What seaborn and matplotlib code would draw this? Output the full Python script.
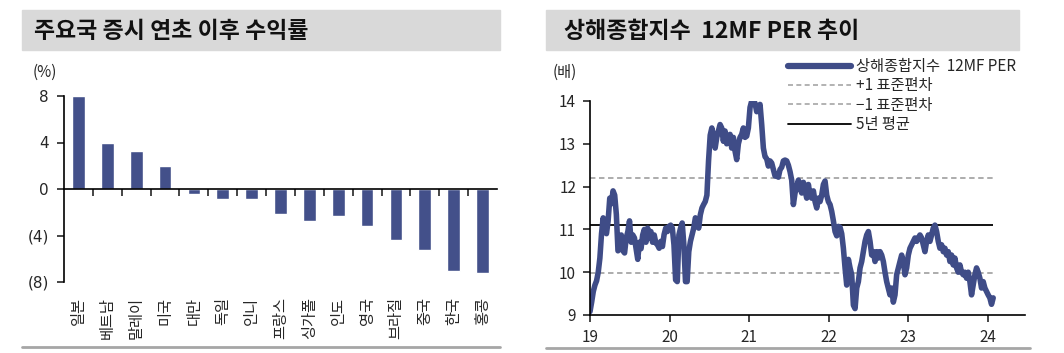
import numpy as np
import pandas as pd
import matplotlib
matplotlib.use("Agg")
import matplotlib.pyplot as plt
from matplotlib.lines import Line2D
from matplotlib.patches import Rectangle
import matplotlib.transforms as mtransforms
import seaborn as sns

sns.set_style("white")
plt.rcParams["font.family"] = ["Noto Sans CJK KR", "DejaVu Sans"]
plt.rcParams["axes.unicode_minus"] = False

# ---- left chart data: 주요국 증시 연초 이후 수익률 (%)
countries = ["일본", "베트남", "말레이", "미국", "대만", "독일", "인니", "프랑스",
             "싱가폴", "인도", "영국", "브라질", "중국", "한국", "홍콩"]
returns = [8.0, 4.0, 3.3, 2.0, -0.4, -0.83, -0.83, -2.18,
           -2.78, -2.32, -3.21, -4.38, -5.27, -7.05, -7.19]
ret_ticks = [8, 4, 0, -4, -8]
ret_ticklabels = ["8", "4", "0", "(4)", "(8)"]

# ---- right chart data: 상해종합지수 12MF PER (배) in three stretches
per_a = [9.08, 9.3, 9.55, 9.7, 9.8, 10.0, 10.33, 10.9, 11.27, 11.03, 10.9, 11.2, 11.73, 11.6,
         11.9, 11.8, 11.35, 10.5, 10.55, 10.87, 10.5, 10.45, 10.8, 10.95, 11.2, 10.7, 10.87,
         10.8, 10.55, 10.3, 10.7, 10.55, 10.87, 11.0, 10.7, 11.03, 10.8, 10.95, 10.7, 10.87,
         10.68, 10.64, 10.56, 10.72, 10.6, 10.88, 11.03, 10.95, 11.07, 11.1, 11.03, 10.64,
         9.82, 9.78, 10.87, 11.03, 11.15, 10.64, 9.78, 9.78, 10.48, 10.72, 10.87, 11.03,
         11.27, 11.2, 11.03, 11.34, 11.5, 11.58, 11.65, 11.8, 12.6, 13.2, 13.37, 13.2, 12.9,
         13.15, 13.3, 13.45, 13.37, 13.06]
per_a_span = (2019.0, 2020.677)

per_b = [13.3, 13.0, 13.15, 13.22, 12.9, 13.15, 12.83, 12.63, 13.0, 13.15, 13.22, 13.37,
         13.15, 13.18, 13.37, 13.85, 14.0, 14.0, 13.95, 13.75, 13.8, 13.92, 13.45, 12.9,
         12.7, 12.65, 12.48, 12.6, 12.55, 12.4, 12.25, 12.25, 12.22, 12.4, 12.45, 12.6,
         12.62, 12.6, 12.5, 12.35, 12.15, 11.58, 11.85, 12.0, 12.15, 11.97, 11.85, 12.1,
         11.92, 11.73, 12.05, 11.8, 11.73, 11.9, 11.65, 11.5, 11.73, 11.65, 11.8, 12.05,
         12.13, 11.8, 11.65, 11.58, 11.42, 11.2, 10.95, 10.85, 11.07, 11.05, 10.9, 10.56,
         10.1, 9.7, 10.3, 10.1, 9.94, 9.23]
per_b_span = (2020.698, 2022.312)

per_c = [9.15, 9.63, 9.78, 10.1, 10.25, 10.48, 10.72, 10.87, 10.95, 10.72, 10.4, 10.48,
         10.25, 10.48, 10.33, 10.48, 10.4, 10.25, 10.0, 9.78, 9.63, 9.47, 9.63, 9.3, 9.47,
         9.94, 10.1, 10.25, 10.4, 10.25, 9.94, 10.1, 10.4, 10.56, 10.64, 10.72, 10.8, 10.72,
         10.8, 10.87, 10.8, 10.64, 10.48, 10.72, 10.87, 10.72, 10.87, 11.03, 11.1, 10.95,
         10.72, 10.56, 10.64, 10.48, 10.56, 10.4, 10.48, 10.25, 10.4, 10.17, 10.33, 10.1,
         10.0, 10.17, 10.0, 9.94, 10.0, 9.86, 10.0, 9.78, 9.47, 9.7, 9.94, 10.1, 10.0, 9.86,
         9.63, 9.78, 9.63, 9.55, 9.47, 9.4, 9.25, 9.4]
per_c_span = (2022.333, 2024.07)

per_plus1 = 12.2
per_minus1 = 9.97
per_mean = 11.1
year_ticks = [2019, 2020, 2021, 2022, 2023, 2024]
year_labels = ["19", "20", "21", "22", "23", "24"]

bar_color = "#43508A"
line_color = "#3F4C87"
grid_gray = "#A6A6A6"

frames = []
for vals, (x0, x1) in [(per_a, per_a_span), (per_b, per_b_span), (per_c, per_c_span)]:
    frames.append(pd.DataFrame({"year": np.linspace(x0, x1, len(vals)), "per": vals}))
per_df = pd.concat(frames, ignore_index=True)

W, H = 1064, 353
fig = plt.figure(figsize=(W / 100, H / 100), dpi=100)


def fx(px):
    return px / W


def fy(py):
    return 1 - py / H


# title boxes and bottom rules
for x0, x1, tx, title in [(22, 500, 34, "주요국 증시 연초 이후 수익률"),
                          (546, 1019, 564, "상해종합지수  12MF PER 추이")]:
    fig.patches.append(Rectangle((fx(x0), fy(50)), fx(x1 - x0), 40 / H,
                                 transform=fig.transFigure, color="#D9D9D9", zorder=0))
    fig.text(fx(tx), fy(31), title, fontsize=16.5, fontweight="bold",
             ha="left", va="center", color="#111111")
fig.add_artist(Line2D([fx(22), fx(500)], [fy(347), fy(347)], color=grid_gray, lw=2))
fig.add_artist(Line2D([fx(546), fx(1030)], [fy(348), fy(348)], color=grid_gray, lw=2))

# ---------------- left: bar chart
ax1 = fig.add_axes([fx(64), fy(282), fx(497 - 64), (282 - 96) / H])
sns.barplot(x=countries, y=returns, color=bar_color, width=0.44, saturation=1, ax=ax1)
ax1.set_xlim(-0.5, 14.5)
ax1.set_ylim(-8, 8)
for s in ["top", "right"]:
    ax1.spines[s].set_visible(False)
ax1.spines["bottom"].set_position(("data", 0))
ax1.spines["left"].set_bounds(-8, 8)
for s in ["left", "bottom"]:
    ax1.spines[s].set_color("black")
    ax1.spines[s].set_linewidth(1.2)
ax1.set_yticks(ret_ticks)
ax1.set_yticklabels(ret_ticklabels, fontsize=11, family=["DejaVu Sans"])
ax1.set_xticks(np.arange(len(countries) - 1) + 0.5)
ax1.set_xticklabels([])
ax1.tick_params(axis="y", direction="out", length=5, width=1.2, pad=6, left=True)
ax1.tick_params(axis="x", direction="out", length=5, width=1.2, bottom=True)
ax1.set_xlabel("")
ax1.set_ylabel("")
trans = mtransforms.blended_transform_factory(ax1.transData, ax1.transAxes)
for i, name in enumerate(countries):
    ax1.text(i, -0.08, name, rotation=90, ha="center", va="top",
             fontsize=11, transform=trans)
fig.text(fx(33), fy(72), "(%)", fontsize=11, ha="left", va="center")

# ---------------- right: line chart
ax2 = fig.add_axes([fx(590), fy(315), fx(1025 - 590), (315 - 101) / H])
x_end = per_df["year"].iloc[-1]
ax2.hlines(per_plus1, 2019, x_end, colors=grid_gray, linestyles=(0, (3, 2)), lw=1.3)
ax2.hlines(per_minus1, 2019, x_end, colors=grid_gray, linestyles=(0, (3, 2)), lw=1.3)
ax2.hlines(per_mean, 2019, x_end, colors="black", lw=1.3)
sns.lineplot(data=per_df, x="year", y="per", color=line_color, lw=4, ax=ax2,
             solid_joinstyle="round", solid_capstyle="round")
ax2.set_xlim(2019, 2024.47)
ax2.set_ylim(9, 14)
for s in ["top", "right"]:
    ax2.spines[s].set_visible(False)
for s in ["left", "bottom"]:
    ax2.spines[s].set_color("black")
    ax2.spines[s].set_linewidth(1.2)
ax2.set_xticks(year_ticks)
ax2.set_xticklabels(year_labels, fontsize=11)
ax2.set_yticks(np.arange(9, 15))
ax2.set_yticklabels([str(v) for v in range(9, 15)], fontsize=11)
ax2.tick_params(axis="both", direction="out", length=5, width=1.2, pad=5,
                left=True, bottom=True)
ax2.set_xlabel("")
ax2.set_ylabel("")
fig.text(fx(553), fy(72), "(배)", fontsize=11, ha="left", va="center")

handles = [Line2D([], [], color=line_color, lw=4.5, solid_capstyle="round"),
           Line2D([], [], color=grid_gray, lw=1.2, ls=(0, (3, 2))),
           Line2D([], [], color=grid_gray, lw=1.2, ls=(0, (3, 2))),
           Line2D([], [], color="black", lw=1.3)]
labels = ["상해종합지수  12MF PER", "+1 표준편차", "\u22121 표준편차", "5년 평균"]
fig.legend(handles, labels, loc="upper left", bbox_to_anchor=(fx(788), fy(58)),
           frameon=False, fontsize=11, handlelength=4.1, handletextpad=0.35,
           labelspacing=0.15, borderpad=0, borderaxespad=0)

fig.savefig("out.png", dpi=100)
